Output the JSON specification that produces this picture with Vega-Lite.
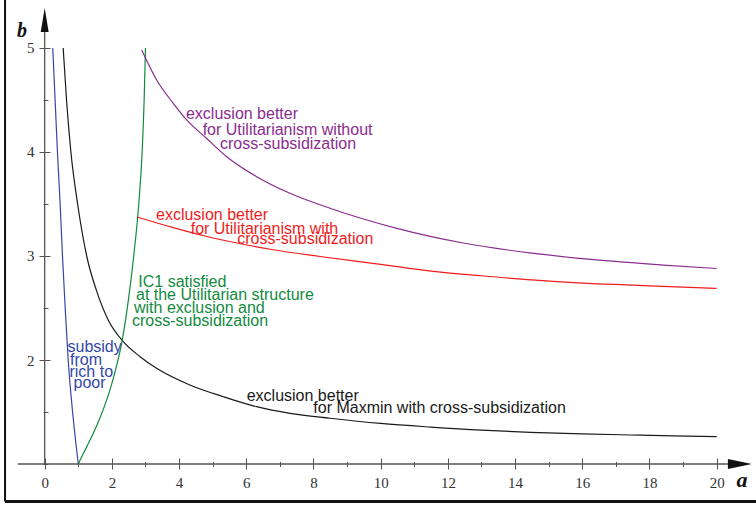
{
  "$schema": "https://vega.github.io/schema/vega-lite/v6.json",
  "width": 756,
  "height": 505,
  "autosize": "none",
  "padding": 0,
  "background": "white",
  "config": {
    "view": {"stroke": null},
    "axis": {"domain": false, "grid": false, "tickColor": "#555", "tickWidth": 1, "labelFont": "Liberation Serif", "labelFontSize": 15, "labelColor": "#333"}
  },
  "datasets": {
    "curves": [
      {"s": "blue", "a": 0.24, "b": 5.0},
      {"s": "blue", "a": 0.31, "b": 4.5},
      {"s": "blue", "a": 0.38, "b": 4.0},
      {"s": "blue", "a": 0.46, "b": 3.5},
      {"s": "blue", "a": 0.53, "b": 3.0},
      {"s": "blue", "a": 0.61, "b": 2.5},
      {"s": "blue", "a": 0.70, "b": 2.0},
      {"s": "blue", "a": 0.83, "b": 1.5},
      {"s": "blue", "a": 0.91, "b": 1.25},
      {"s": "blue", "a": 1.0, "b": 1.0},
      {"s": "black", "a": 0.55, "b": 5.0},
      {"s": "black", "a": 0.65, "b": 4.5},
      {"s": "black", "a": 0.78, "b": 4.0},
      {"s": "black", "a": 0.98, "b": 3.5},
      {"s": "black", "a": 1.25, "b": 3.0},
      {"s": "black", "a": 1.55, "b": 2.66},
      {"s": "black", "a": 1.89, "b": 2.385},
      {"s": "black", "a": 2.34, "b": 2.176},
      {"s": "black", "a": 2.84, "b": 2.032},
      {"s": "black", "a": 3.33, "b": 1.92},
      {"s": "black", "a": 4.32, "b": 1.76},
      {"s": "black", "a": 5.32, "b": 1.647},
      {"s": "black", "a": 6.31, "b": 1.551},
      {"s": "black", "a": 7.3, "b": 1.487},
      {"s": "black", "a": 8.49, "b": 1.44},
      {"s": "black", "a": 10.0, "b": 1.39},
      {"s": "black", "a": 11.48, "b": 1.355},
      {"s": "black", "a": 13.0, "b": 1.325},
      {"s": "black", "a": 14.46, "b": 1.305},
      {"s": "black", "a": 16.0, "b": 1.29},
      {"s": "black", "a": 17.44, "b": 1.279},
      {"s": "black", "a": 18.7, "b": 1.27},
      {"s": "black", "a": 20.0, "b": 1.263},
      {"s": "green", "a": 1.0, "b": 1.0},
      {"s": "green", "a": 1.15, "b": 1.1},
      {"s": "green", "a": 1.35, "b": 1.23},
      {"s": "green", "a": 1.55, "b": 1.37},
      {"s": "green", "a": 1.75, "b": 1.53},
      {"s": "green", "a": 1.95, "b": 1.72},
      {"s": "green", "a": 2.12, "b": 1.92},
      {"s": "green", "a": 2.29, "b": 2.16},
      {"s": "green", "a": 2.39, "b": 2.35},
      {"s": "green", "a": 2.5, "b": 2.6},
      {"s": "green", "a": 2.65, "b": 3.0},
      {"s": "green", "a": 2.8, "b": 3.5},
      {"s": "green", "a": 2.9, "b": 4.0},
      {"s": "green", "a": 2.96, "b": 4.5},
      {"s": "green", "a": 3.0, "b": 5.0},
      {"s": "red", "a": 2.75, "b": 3.375},
      {"s": "red", "a": 3.8, "b": 3.275},
      {"s": "red", "a": 4.8, "b": 3.19},
      {"s": "red", "a": 5.8, "b": 3.12},
      {"s": "red", "a": 6.8, "b": 3.06},
      {"s": "red", "a": 8.2, "b": 2.995},
      {"s": "red", "a": 10.0, "b": 2.92},
      {"s": "red", "a": 11.5, "b": 2.855},
      {"s": "red", "a": 13.0, "b": 2.81},
      {"s": "red", "a": 14.5, "b": 2.77},
      {"s": "red", "a": 16.0, "b": 2.74},
      {"s": "red", "a": 17.5, "b": 2.72},
      {"s": "red", "a": 19.0, "b": 2.70},
      {"s": "red", "a": 20.0, "b": 2.689},
      {"s": "purple", "a": 2.887, "b": 4.981},
      {"s": "purple", "a": 3.333, "b": 4.692},
      {"s": "purple", "a": 3.827, "b": 4.468},
      {"s": "purple", "a": 4.226, "b": 4.308},
      {"s": "purple", "a": 4.821, "b": 4.13},
      {"s": "purple", "a": 5.417, "b": 3.955},
      {"s": "purple", "a": 6.31, "b": 3.763},
      {"s": "purple", "a": 7.3, "b": 3.603},
      {"s": "purple", "a": 8.49, "b": 3.459},
      {"s": "purple", "a": 10.48, "b": 3.266},
      {"s": "purple", "a": 12.46, "b": 3.125},
      {"s": "purple", "a": 14.44, "b": 3.03},
      {"s": "purple", "a": 16.43, "b": 2.962},
      {"s": "purple", "a": 18.41, "b": 2.913},
      {"s": "purple", "a": 20.0, "b": 2.88}
    ],
    "labels": [
      {"s": "purple", "a": 4.205, "b": 4.314, "t": "exclusion better"},
      {"s": "purple", "a": 4.702, "b": 4.161, "t": "for Utilitarianism without"},
      {"s": "purple", "a": 5.217, "b": 4.026, "t": "cross-subsidization"},
      {"s": "red", "a": 3.313, "b": 3.346, "t": "exclusion better"},
      {"s": "red", "a": 4.345, "b": 3.216, "t": "for Utilitarianism with"},
      {"s": "red", "a": 5.732, "b": 3.115, "t": "cross-subsidization"},
      {"s": "green", "a": 2.786, "b": 2.699, "t": "IC1 satisfied"},
      {"s": "green", "a": 2.717, "b": 2.577, "t": "at the Utilitarian structure"},
      {"s": "green", "a": 2.658, "b": 2.455, "t": "with exclusion and"},
      {"s": "green", "a": 2.598, "b": 2.327, "t": "cross-subsidization"},
      {"s": "blue", "a": 0.679, "b": 2.08, "t": "subsidy"},
      {"s": "blue", "a": 0.753, "b": 1.952, "t": "from"},
      {"s": "blue", "a": 0.738, "b": 1.841, "t": "rich to"},
      {"s": "blue", "a": 0.857, "b": 1.728, "t": "poor"},
      {"s": "black", "a": 6.012, "b": 1.606, "t": "exclusion better"},
      {"s": "black", "a": 7.994, "b": 1.49, "t": "for Maxmin with cross-subsidization"}
    ],
    "one": [{}]
  },
  "layer": [
    {
      "data": {"name": "curves"},
      "mark": {"type": "line", "strokeWidth": 1.2, "interpolate": "monotone"},
      "encoding": {
        "x": {"field": "a", "type": "quantitative", "scale": {"domain": [-1.33, 21.17], "nice": false, "zero": false},
              "axis": {"orient": "bottom", "offset": -47, "values": [0, 2, 4, 6, 8, 10, 12, 14, 16, 18, 20], "tickSize": 11, "labelPadding": 6, "title": null}},
        "y": {"field": "b", "type": "quantitative", "scale": {"domain": [0.6058, 5.4615], "nice": false, "zero": false},
              "axis": {"orient": "left", "offset": -50, "values": [2, 3, 4, 5], "tickSize": 11, "labelPadding": 5, "title": null}},
        "color": {"field": "s", "type": "nominal", "legend": null,
                  "scale": {"domain": ["blue", "black", "green", "red", "purple"], "range": ["#3447a8", "#1a1a1a", "#128a3e", "#f01c1c", "#8a2d8f"]}}
      }
    },
    {
      "data": {"name": "labels"},
      "mark": {"type": "text", "align": "left", "baseline": "alphabetic", "font": "Liberation Sans", "fontSize": 16},
      "encoding": {
        "x": {"field": "a", "type": "quantitative", "scale": {"domain": [-1.33, 21.17], "nice": false, "zero": false},
              "axis": {"orient": "bottom", "offset": -43.5, "values": [1, 3, 5, 7, 9, 11, 13, 15, 17, 19], "tickSize": 5, "labels": false, "title": null}},
        "y": {"field": "b", "type": "quantitative", "scale": {"domain": [0.6058, 5.4615], "nice": false, "zero": false},
              "axis": {"orient": "left", "offset": -48, "values": [1, 1.5, 2.5, 3.5, 4.5], "tickSize": 5, "labels": false, "title": null}},
        "text": {"field": "t", "type": "nominal"},
        "color": {"field": "s", "type": "nominal", "legend": null,
                  "scale": {"domain": ["blue", "black", "green", "red", "purple"], "range": ["#3a4fae", "#222222", "#1a8a45", "#f01c1c", "#8a2d8f"]}}
      }
    },
    {
      "data": {"name": "one"},
      "mark": {"type": "rule", "color": "#555", "strokeWidth": 1.3},
      "encoding": {
        "x": {"datum": -0.8, "type": "quantitative", "axis": null},
        "x2": {"datum": 20.72},
        "y": {"datum": 1, "type": "quantitative", "axis": null}
      }
    },
    {
      "data": {"name": "one"},
      "mark": {"type": "rule", "color": "#555", "strokeWidth": 1.3},
      "encoding": {
        "x": {"datum": 0, "type": "quantitative", "axis": null},
        "y": {"datum": 1, "type": "quantitative", "axis": null},
        "y2": {"datum": 5.269}
      }
    },
    {
      "data": {"name": "one"},
      "mark": {"type": "point", "shape": "M0,-1L0.33,1L-0.33,1Z", "filled": true, "size": 576, "color": "#111", "opacity": 1},
      "encoding": {
        "x": {"datum": 0, "type": "quantitative", "axis": null},
        "y": {"datum": 5.269, "type": "quantitative", "axis": null}
      }
    },
    {
      "data": {"name": "one"},
      "mark": {"type": "point", "shape": "M1,0L-1,0.42L-1,-0.42Z", "filled": true, "size": 576, "color": "#111", "opacity": 1},
      "encoding": {
        "x": {"datum": 20.69, "type": "quantitative", "axis": null},
        "y": {"datum": 1, "type": "quantitative", "axis": null}
      }
    },
    {
      "data": {"name": "one"},
      "mark": {"type": "text", "text": "b", "font": "Liberation Serif", "fontSize": 20, "fontWeight": "bold", "fontStyle": "italic", "align": "center", "baseline": "middle", "color": "#111"},
      "encoding": {
        "x": {"datum": -0.676, "type": "quantitative", "axis": null},
        "y": {"datum": 5.163, "type": "quantitative", "axis": null}
      }
    },
    {
      "data": {"name": "one"},
      "mark": {"type": "text", "text": "a", "font": "Liberation Serif", "fontSize": 22, "fontWeight": "bold", "fontStyle": "italic", "align": "center", "baseline": "middle", "color": "#111"},
      "encoding": {
        "x": {"datum": 20.75, "type": "quantitative", "axis": null},
        "y": {"datum": 0.846, "type": "quantitative", "axis": null}
      }
    },
    {
      "data": {"name": "one"},
      "mark": {"type": "rule", "color": "#111", "strokeWidth": 2},
      "encoding": {
        "x": {"datum": -1.18, "type": "quantitative", "axis": null},
        "y": {"datum": 5.4615, "type": "quantitative", "axis": null},
        "y2": {"datum": 0.639}
      }
    },
    {
      "data": {"name": "one"},
      "mark": {"type": "rule", "color": "#111", "strokeWidth": 3},
      "encoding": {
        "x": {"datum": -1.18, "type": "quantitative", "axis": null},
        "x2": {"datum": 21.17},
        "y": {"datum": 0.639, "type": "quantitative", "axis": null}
      }
    }
  ],
  "resolve": {"axis": {"x": "independent", "y": "independent"}}
}
